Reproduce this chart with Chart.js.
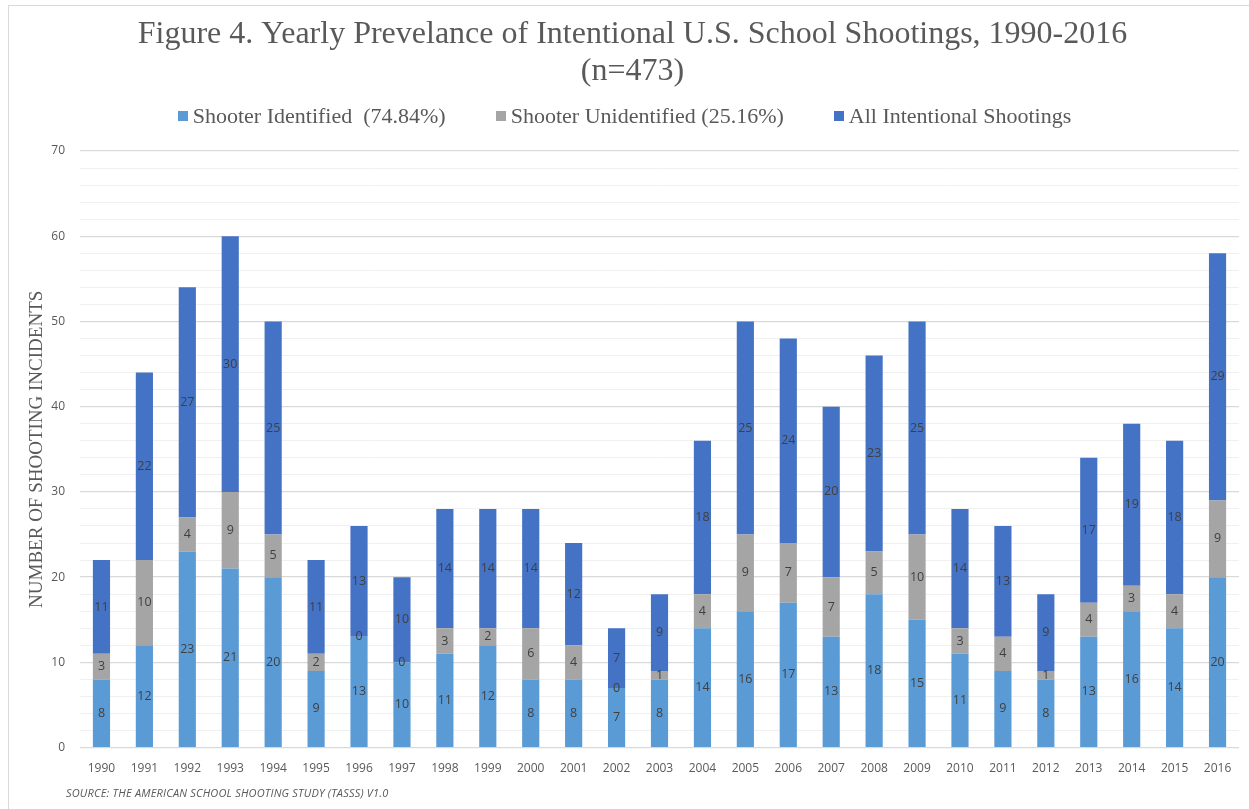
<!DOCTYPE html>
<html>
<head>
<meta charset="utf-8">
<script src="https://cdn.jsdelivr.net/npm/chart.js@4/dist/chart.umd.min.js"></script>
<style>
  html, body { margin: 0; padding: 0; background: #fff; overflow: hidden; }
  #wrap { position: relative; width: 1249px; height: 809px; }
  #frame { position: absolute; left: 8px; top: 5px; width: 1260px; height: 820px; border: 1px solid #d9d9d9; box-sizing: border-box; pointer-events: none; }
  #source { position: absolute; left: 66px; top: 785px; font-family: "Open Sans", "DejaVu Sans", sans-serif; font-style: italic; font-size: 11px; color: #595959; letter-spacing: 0.2px; }
  #legend { position: absolute; left: 0; width: 1249px; top: 103px; height: 26px; display: flex; justify-content: center; align-items: center; gap: 50px; font-family: "Liberation Serif", "DejaVu Serif", serif; font-size: 22px; color: #595959; white-space: pre; }
  #legend .item { display: flex; align-items: center; }
  #legend .box { width: 10px; height: 10px; margin-right: 5px; display: inline-block; }
  canvas { position: absolute; left: 0; top: 0; }
</style>
</head>
<body>
<div id="wrap">
  <canvas id="c" width="1249" height="809"></canvas>
  <div id="legend"></div>
  <div id="frame"></div>
  <div id="source">SOURCE: THE AMERICAN SCHOOL SHOOTING STUDY (TASSS) V1.0</div>
</div>
<script>
const years = ['1990','1991','1992','1993','1994','1995','1996','1997','1998','1999','2000','2001','2002','2003','2004','2005','2006','2007','2008','2009','2010','2011','2012','2013','2014','2015','2016'];
const identified   = [8,12,23,21,20,9,13,10,11,12,8,8,7,8,14,16,17,13,18,15,11,9,8,13,16,14,20];
const unidentified = [3,10,4,9,5,2,0,0,3,2,6,4,0,1,4,9,7,7,5,10,3,4,1,4,3,4,9];
const allShootings = [11,22,27,30,25,11,13,10,14,14,14,12,7,9,18,25,24,20,23,25,14,13,9,17,19,18,29];
const seriesNames = ['Shooter Identified  (74.84%)', 'Shooter Unidentified (25.16%)', 'All Intentional Shootings'];
const seriesColors = ['#5B9BD5', '#A5A5A5', '#4472C4'];
const yTicksMax = 70;

const segLabels = {
  id: 'segLabels',
  afterDatasetsDraw(chart) {
    const ctx = chart.ctx;
    ctx.save();
    ctx.font = '12.5px "Open Sans", "DejaVu Sans", sans-serif';
    ctx.fillStyle = '#404040';
    ctx.textAlign = 'center';
    ctx.textBaseline = 'middle';
    chart.data.datasets.forEach((ds, i) => {
      const meta = chart.getDatasetMeta(i);
      meta.data.forEach((el, j) => {
        const p = el.getProps(['x','y','base'], true);
        ctx.fillText(String(ds.data[j]), p.x, (p.y + p.base) / 2);
      });
    });
    ctx.restore();
  }
};

const chart = new Chart(document.getElementById('c'), {
  type: 'bar',
  data: {
    labels: years,
    datasets: [
      { label: seriesNames[0], data: identified, backgroundColor: seriesColors[0] },
      { label: seriesNames[1], data: unidentified, backgroundColor: seriesColors[1] },
      { label: seriesNames[2], data: allShootings, backgroundColor: seriesColors[2] }
    ]
  },
  options: {
    responsive: false,
    animation: false,
    datasets: { bar: { barPercentage: 0.4, categoryPercentage: 1.0 } },
    layout: { padding: { left: 26, right: 10, top: 16, bottom: 27 } },
    plugins: {
      title: {
        display: true,
        text: ['Figure 4. Yearly Prevelance of Intentional U.S. School Shootings, 1990-2016', '(n=473)'],
        color: '#595959',
        font: { family: '"Liberation Serif", "DejaVu Serif", serif', size: 32, weight: 'normal', lineHeight: 1.156 },
        padding: { top: 0, bottom: 61 }
      },
      legend: { display: false },
      tooltip: { enabled: false }
    },
    scales: {
      x: {
        stacked: true,
        grid: { display: false },
        border: { display: false },
        ticks: { color: '#595959', font: { family: '"Open Sans", "DejaVu Sans", sans-serif', size: 12 }, padding: 6, maxRotation: 0, autoSkip: false }
      },
      y: {
        stacked: true,
        min: 0, max: yTicksMax,
        afterFit(scale) { scale.width = 54; },
        border: { display: false },
        grid: {
          drawTicks: false,
          color: (c) => (c.tick && c.tick.value % 10 === 0) ? '#d9d9d9' : '#f0f0f0',
          lineWidth: (c) => (c.tick && c.tick.value % 10 === 0) ? 1.3 : 1
        },
        ticks: {
          stepSize: 2,
          autoSkip: false,
          padding: 15,
          color: '#595959',
          font: { family: '"Open Sans", "DejaVu Sans", sans-serif', size: 12 },
          callback: (v) => (v % 10 === 0 ? String(v) : '')
        },
        title: {
          display: true,
          text: 'NUMBER OF SHOOTING INCIDENTS',
          color: '#595959',
          font: { family: '"Liberation Serif", "DejaVu Serif", serif', size: 19 },
          padding: { top: 0, bottom: 0 }
        }
      }
    }
  },
  plugins: [segLabels]
});

// HTML legend built from the chart's datasets
const legendEl = document.getElementById('legend');
chart.data.datasets.forEach((ds) => {
  const item = document.createElement('span');
  item.className = 'item';
  const box = document.createElement('span');
  box.className = 'box';
  box.style.background = ds.backgroundColor;
  const txt = document.createElement('span');
  txt.textContent = ds.label;
  item.appendChild(box);
  item.appendChild(txt);
  legendEl.appendChild(item);
});
</script>
</body>
</html>
